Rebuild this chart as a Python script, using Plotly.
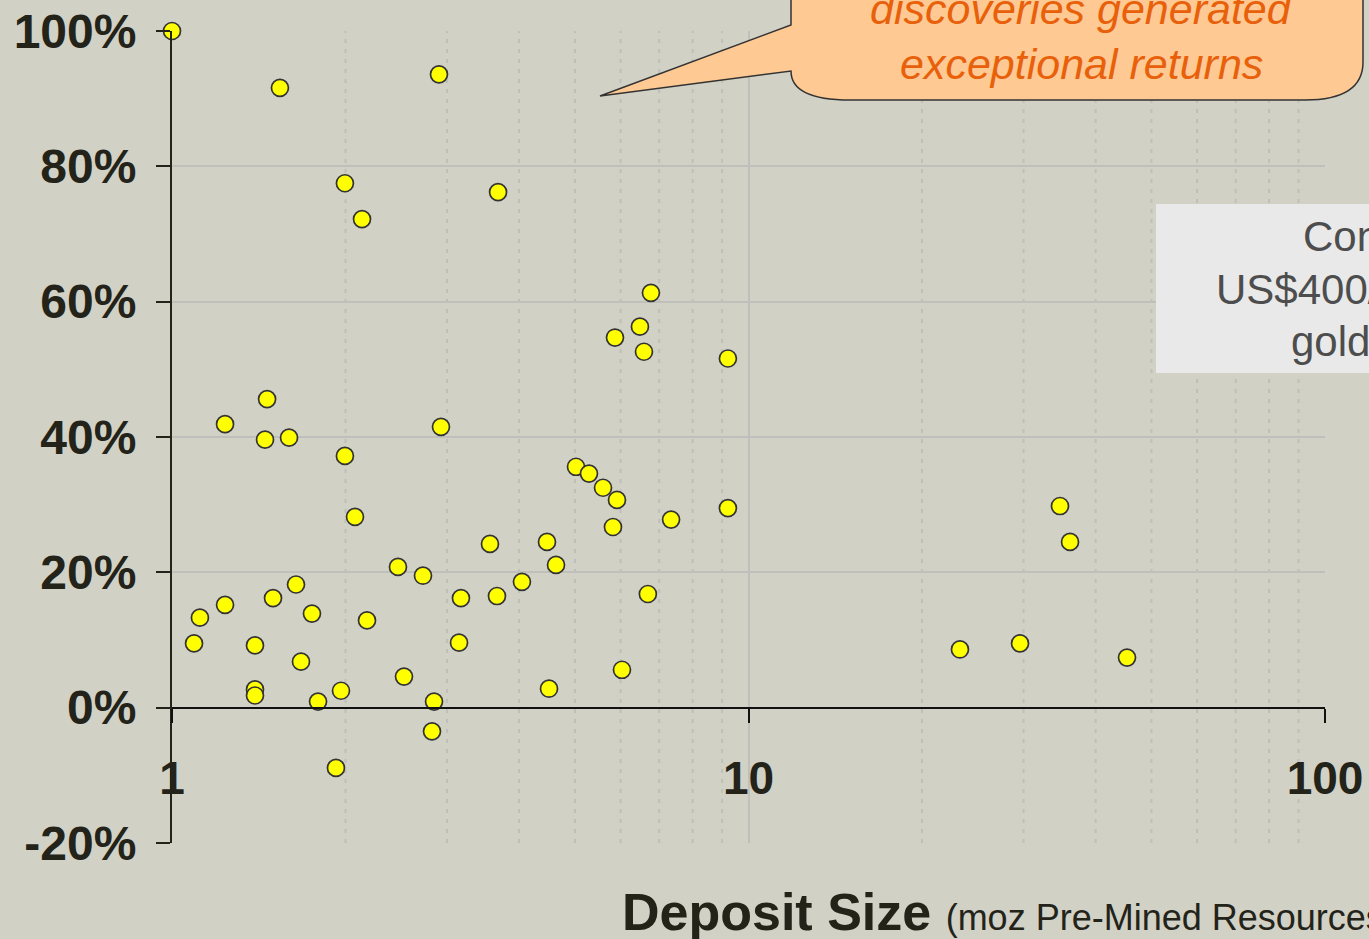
import plotly.graph_objects as go

# ---------------- data ----------------
deposit_size_moz = [
    1.000, 1.539, 2.905, 1.995, 2.136, 3.678, 6.773, 6.482, 5.867, 6.587,
    9.21, 1.462, 1.236, 1.450, 1.596, 2.928, 1.995, 2.077, 5.021, 5.288,
    5.593, 5.914, 5.82, 7.34, 9.21, 3.561, 4.472, 4.636, 2.466, 2.725,
    4.046, 3.662, 3.171, 6.69, 1.641, 1.497, 1.749, 1.236, 1.118, 2.179,
    1.092, 1.393, 3.147, 1.674, 2.526, 6.033, 1.393, 1.393, 1.792, 1.964,
    2.848, 4.508, 2.825, 1.925, 23.27, 29.58, 34.7, 36.12, 45.35,
]
return_pct = [
    100.0, 91.6, 93.6, 77.5, 72.2, 76.2, 61.3, 56.3, 54.7, 52.6,
    51.6, 45.6, 41.9, 39.6, 39.9, 41.5, 37.2, 28.2, 35.6, 34.6,
    32.5, 30.7, 26.7, 27.8, 29.5, 24.2, 24.5, 21.1, 20.8, 19.5,
    18.6, 16.5, 16.2, 16.8, 18.2, 16.2, 13.9, 15.2, 13.3, 12.9,
    9.5, 9.2, 9.6, 6.8, 4.6, 5.6, 2.7, 1.8, 0.9, 2.5,
    0.9, 2.8, -3.5, -8.9, 8.6, 9.5, 29.8, 24.5, 7.4,
]
x_tick_vals = [1, 10, 100]
x_tick_text = ["1", "10", "100"]
y_tick_vals = [-20, 0, 20, 40, 60, 80, 100]
y_tick_text = ["-20%", "0%", "20%", "40%", "60%", "80%", "100%"]
minor_grid_x = [2, 3, 4, 5, 6, 7, 8, 9, 20, 30, 40, 50, 60, 70, 80, 90]

callout_lines = ["discoveries generated", "exceptional returns"]
note_lines = ["Constant", "US$400/oz", "gold price"]
axis_title_bold = "Deposit Size"
axis_title_rest = "(moz Pre-Mined Resources)"

# ---------------- layout helpers ----------------
W, H = 1369, 939
L, R, T, B = 172, 1325, 31, 843


def px(x):
    return (x - L) / (R - L)


def py(y):
    return (B - y) / (B - T)


BG = "#d1d1c5"
DARK = "#23231a"
GRID = "#bfbfbb"

fig = go.Figure()

fig.add_trace(go.Scatter(
    x=deposit_size_moz, y=return_pct, mode="markers",
    marker=dict(size=17, color="#ffff00", line=dict(color="#333333", width=1.7)),
    cliponaxis=False, showlegend=False, hoverinfo="skip",
))

# minor dotted vertical gridlines
for v in minor_grid_x:
    fig.add_shape(type="line", xref="x", yref="paper", x0=v, x1=v, y0=0, y1=1,
                  line=dict(color=GRID, width=2, dash="4px,6px"), layer="below")


# callout bubble
def P(x, y):
    return f"{px(x):.5f},{py(y):.5f}"


path = (f"M {P(791,-40)} L {P(791,25)} L {P(600,96)} L {P(791,71)} "
        f"Q {P(791,100)} {P(850,100)} L {P(1305,100)} "
        f"Q {P(1363,100)} {P(1363,62)} L {P(1363,-40)} Z")
fig.add_shape(type="path", xref="paper", yref="paper", path=path,
              fillcolor="#ffc994", line=dict(color="#333333", width=1.5), layer="above")

for txt, cy in zip(callout_lines, [9, 64]):
    fig.add_annotation(xref="paper", yref="paper", x=px(1081), y=py(cy),
                       text=txt, showarrow=False, xanchor="center", yanchor="middle",
                       font=dict(family="Liberation Sans, Arial", size=43,
                                 color="#e8600a", style="italic"))

# grey note box
fig.add_shape(type="rect", xref="paper", yref="paper",
              x0=px(1156), x1=px(1420), y0=py(373), y1=py(204),
              fillcolor="#e9e9e9", line=dict(width=0), layer="above")
for txt, lx, cy in zip(note_lines, [1301, 1214, 1289], [237, 289, 341]):
    fig.add_annotation(xref="paper", yref="paper", x=px(lx), y=py(cy), text=txt,
                       showarrow=False, xanchor="left", yanchor="middle",
                       font=dict(family="Liberation Sans, Arial", size=42, color="#4d4d4d"))

# axis title
fig.add_annotation(xref="paper", yref="paper", x=px(620), y=py(912),
                   text=f"<b>{axis_title_bold}</b> <span style='font-size:36px'>{axis_title_rest}</span>",
                   showarrow=False, xanchor="left", yanchor="middle",
                   font=dict(family="Liberation Sans, Arial", size=52, color=DARK))

fig.update_layout(
    width=W, height=H,
    margin=dict(l=L, r=W - R, t=T, b=H - B, pad=0, autoexpand=False),
    paper_bgcolor=BG, plot_bgcolor=BG,
    showlegend=False,
    xaxis=dict(
        type="log", range=[0, 2], tickvals=x_tick_vals, ticktext=x_tick_text,
        showgrid=True, gridcolor=GRID, gridwidth=2,
        showline=True, linecolor="#111111", linewidth=2,
        ticks="outside", ticklen=14, tickwidth=2, tickcolor="#111111",
        anchor="free", position=1 / 6, ticklabelstandoff=16,
        tickfont=dict(family="Liberation Sans, Arial", size=46, color=DARK, weight="bold"),
        zeroline=False, automargin=False,
    ),
    yaxis=dict(
        range=[-20, 100], tickvals=y_tick_vals, ticktext=y_tick_text,
        showgrid=True, gridcolor=GRID, gridwidth=2,
        showline=True, linecolor=DARK, linewidth=2,
        ticks="outside", ticklen=14, tickwidth=2, tickcolor=DARK,
        ticklabelstandoff=10,
        tickfont=dict(family="Liberation Sans, Arial", size=48, color=DARK, weight="bold"),
        zeroline=False, automargin=False,
    ),
)

fig.write_html("out.html", config={"displayModeBar": False},
               post_script="document.body.style.margin='0';")
